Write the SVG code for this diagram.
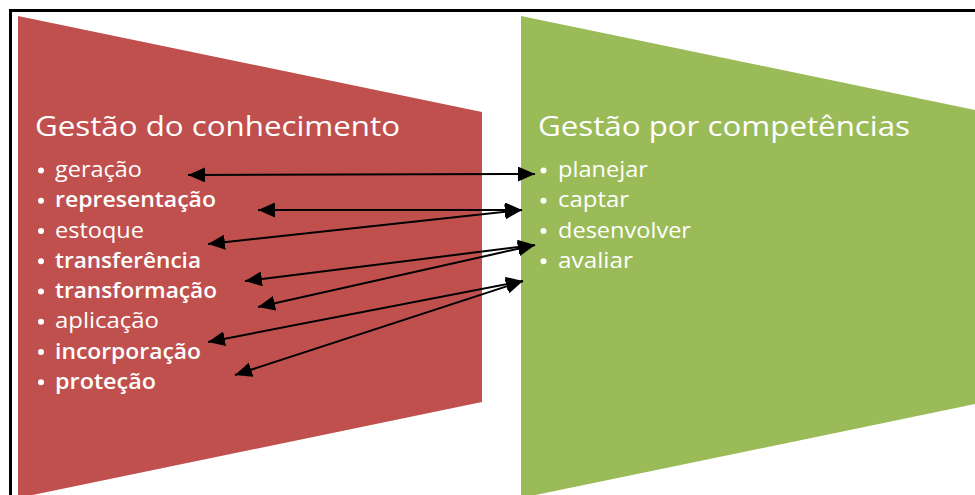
<svg xmlns="http://www.w3.org/2000/svg" width="975" height="495" viewBox="0 0 975 495">
<defs>
<style>
.title{font-family:"Open Sans","Noto Sans",sans-serif;font-size:28px;fill:#fff}
.item{font-family:"Open Sans","Noto Sans",sans-serif;font-size:21px;fill:#fff}
.b{font-weight:600}
.conn line{stroke:#000;stroke-width:2;marker-start:url(#ah);marker-end:url(#ah)}
</style>
<marker id="ah" viewBox="0 0 17 15" refX="17" refY="7.5" markerWidth="17" markerHeight="15" markerUnits="userSpaceOnUse" orient="auto-start-reverse">
<path d="M0,0 L17,7.5 L0,15 z" fill="#000"/>
</marker>
</defs>
<rect width="975" height="495" fill="#fff"/>
<g id="frame" stroke="#000" stroke-width="3" fill="none">
<line x1="9" y1="10.5" x2="975" y2="10.5"/>
<line x1="10.5" y1="9" x2="10.5" y2="495"/>
</g>
<g id="knowledge">
<polygon points="18,16 482,112 482,402 18,498" fill="#C0504D"/>
<text class="title" x="35" y="136" textLength="365" lengthAdjust="spacingAndGlyphs">Gestão do conhecimento</text>
<g fill="#fff">
<circle cx="41" cy="170.5" r="3"/><circle cx="41" cy="200.8" r="3"/><circle cx="41" cy="231" r="3"/><circle cx="41" cy="261.3" r="3"/>
<circle cx="41" cy="291.5" r="3"/><circle cx="41" cy="321.7" r="3"/><circle cx="41" cy="352" r="3"/><circle cx="41" cy="382.2" r="3"/>
</g>
<text class="item" x="55" y="177" textLength="87" lengthAdjust="spacingAndGlyphs">geração</text>
<text class="item b" x="55" y="207.3" textLength="161" lengthAdjust="spacingAndGlyphs">representação</text>
<text class="item" x="55" y="237.5" textLength="89" lengthAdjust="spacingAndGlyphs">estoque</text>
<text class="item b" x="55" y="267.8" textLength="146" lengthAdjust="spacingAndGlyphs">transferência</text>
<text class="item b" x="55" y="298" textLength="162" lengthAdjust="spacingAndGlyphs">transformação</text>
<text class="item" x="55" y="328.2" textLength="104" lengthAdjust="spacingAndGlyphs">aplicação</text>
<text class="item b" x="55" y="358.5" textLength="146" lengthAdjust="spacingAndGlyphs">incorporação</text>
<text class="item b" x="55" y="388.7" textLength="101" lengthAdjust="spacingAndGlyphs">proteção</text>
</g>
<g id="competences">
<polygon points="521,16 985,112 985,402 521,498" fill="#9BBB59"/>
<text class="title" x="538" y="136" textLength="372" lengthAdjust="spacingAndGlyphs">Gestão por competências</text>
<g fill="#fff">
<circle cx="543.5" cy="170.5" r="3"/><circle cx="543.5" cy="200.8" r="3"/><circle cx="543.5" cy="231" r="3"/><circle cx="543.5" cy="261.3" r="3"/>
</g>
<text class="item" x="558" y="177" textLength="90" lengthAdjust="spacingAndGlyphs">planejar</text>
<text class="item" x="558" y="207.3" textLength="71" lengthAdjust="spacingAndGlyphs">captar</text>
<text class="item" x="558" y="237.5" textLength="133" lengthAdjust="spacingAndGlyphs">desenvolver</text>
<text class="item" x="558" y="267.8" textLength="75" lengthAdjust="spacingAndGlyphs">avaliar</text>
</g>
<g id="connectors" class="conn">
<line x1="188" y1="175" x2="535" y2="174"/>
<line x1="258" y1="210" x2="522" y2="210"/>
<line x1="208" y1="244" x2="522" y2="210"/>
<line x1="245" y1="281" x2="535" y2="245"/>
<line x1="258" y1="307" x2="535" y2="245"/>
<line x1="208" y1="342" x2="523" y2="281"/>
<line x1="235" y1="375" x2="523" y2="281"/>
</g>
</svg>
